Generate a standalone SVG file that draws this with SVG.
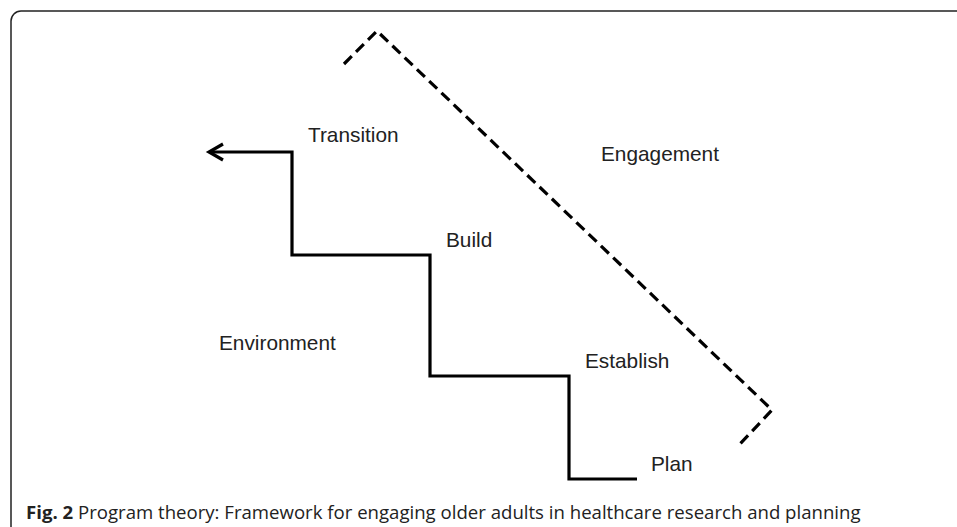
<svg xmlns="http://www.w3.org/2000/svg" width="957" height="527" viewBox="0 0 957 527">
<defs>
<style>
.lbl{font-family:"Liberation Sans",Arial,sans-serif;font-size:20.8px;fill:#222}
.cap{font-family:"Open Sans",sans-serif;font-size:18.6px;fill:#222}
.stair{fill:none;stroke:#000;stroke-width:3.2;stroke-linejoin:miter}
.dash{fill:none;stroke:#000;stroke-width:3.2;stroke-dasharray:11 6}
</style>
<marker id="arr" markerUnits="userSpaceOnUse" markerWidth="24" markerHeight="24" refX="17" refY="10" orient="auto">
<path d="M3,2 L17,10 L3,18" fill="none" stroke="#000" stroke-width="3.2"/>
</marker>
</defs>
<rect x="0" y="0" width="957" height="527" fill="#fff"/>
<rect id="frame" x="11" y="11" width="980" height="560" rx="10" ry="10" fill="none" stroke="#222" stroke-width="1.5"/>
<g id="connectors">
<path id="staircase" class="stair" d="M637,479 H569 V376 H430 V255 H292 V152 H209" marker-end="url(#arr)"/>
<path id="boundary" class="dash" d="M344,64 L377,31 L772,410 L740,444"/>
</g>
<g id="node-transition"><text class="lbl" x="308" y="142">Transition</text></g>
<g id="node-build"><text class="lbl" x="446" y="247">Build</text></g>
<g id="node-establish"><text class="lbl" x="585" y="368">Establish</text></g>
<g id="node-plan"><text class="lbl" x="651" y="471">Plan</text></g>
<g id="node-engagement"><text class="lbl" x="601" y="161">Engagement</text></g>
<g id="node-environment"><text class="lbl" x="219" y="350">Environment</text></g>
<g id="caption"><text class="cap" x="26" y="519"><tspan font-weight="bold">Fig. 2</tspan> Program theory: Framework for engaging older adults in healthcare research and planning</text></g>
</svg>
